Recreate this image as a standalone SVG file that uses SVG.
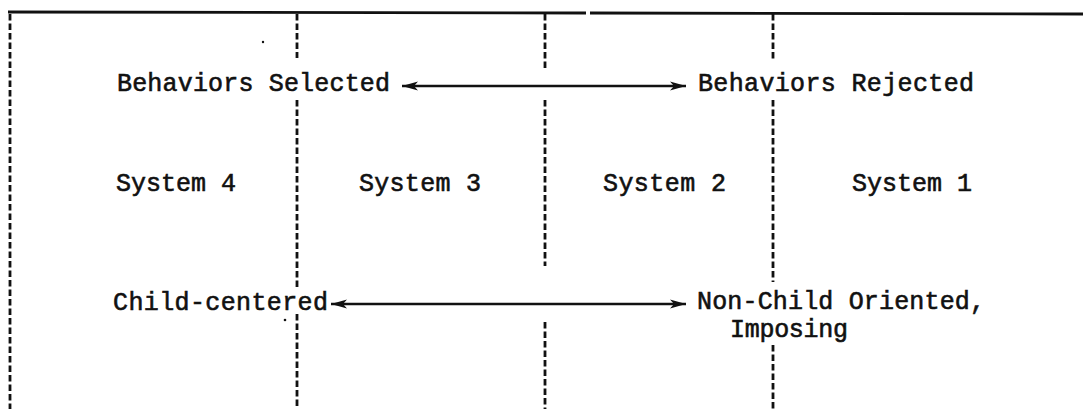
<svg xmlns="http://www.w3.org/2000/svg" width="1090" height="409" viewBox="0 0 1090 409">
  <style>
    .lbl { font-family: "Liberation Mono", "DejaVu Sans Mono", monospace; font-size: 25px; fill: #111; stroke: #111; stroke-width: 0.6; }
    .rule { stroke: #111; stroke-width: 2.8; fill: none; }
    .dash { stroke: #111; stroke-width: 2.8; fill: none; stroke-dasharray: 6.5 3; }
    .conn { stroke: #111; stroke-width: 2.6; fill: none; }
  </style>
  <defs>
    <marker id="head" viewBox="0 0 16 10" refX="16" refY="5" markerWidth="16" markerHeight="10" markerUnits="userSpaceOnUse" orient="auto-start-reverse">
      <path d="M0,0.5 L16,5 L0,9.5 L4,5 Z" fill="#111"/>
    </marker>
  </defs>
  <rect width="1090" height="409" fill="#fff"/>

  <!-- frame: top rule and column dividers -->
  <g id="frame">
    <path class="rule" d="M8,12 L586,13 M590,13 L1083,14"/>
    <path class="dash" d="M10,14 V409"/>
    <path class="dash" d="M297,14 V58 M297,100 V290 M297,314 V409"/>
    <path class="dash" d="M545,14 V70 M545,100 V266 M545,322 V409"/>
    <path class="dash" d="M773,14 V60 M773,100 V282 M773,345 V409"/>
    <circle cx="263" cy="42" r="1.2" fill="#111"/>
    <circle cx="285" cy="320" r="1.3" fill="#111"/>
  </g>

  <g id="behaviors-selected"><text class="lbl" x="117" y="91" textLength="273">Behaviors Selected</text></g>
  <g id="behaviors-rejected"><text class="lbl" x="698" y="91" textLength="276">Behaviors Rejected</text></g>
  <g id="system-4"><text class="lbl" x="116" y="191" textLength="120">System 4</text></g>
  <g id="system-3"><text class="lbl" x="359" y="191" textLength="122">System 3</text></g>
  <g id="system-2"><text class="lbl" x="603" y="191" textLength="123">System 2</text></g>
  <g id="system-1"><text class="lbl" x="852" y="191" textLength="120">System 1</text></g>
  <g id="child-centered"><text class="lbl" x="113" y="310" textLength="215">Child-centered</text></g>
  <g id="non-child-oriented">
    <text class="lbl" x="697" y="309" textLength="288">Non-Child Oriented,</text>
    <text class="lbl" x="730" y="337" textLength="118">Imposing</text>
  </g>

  <g id="connectors">
    <path class="conn" d="M402,86 H686" marker-start="url(#head)" marker-end="url(#head)"/>
    <path class="conn" d="M331,304 H686" marker-start="url(#head)" marker-end="url(#head)"/>
  </g>
</svg>
